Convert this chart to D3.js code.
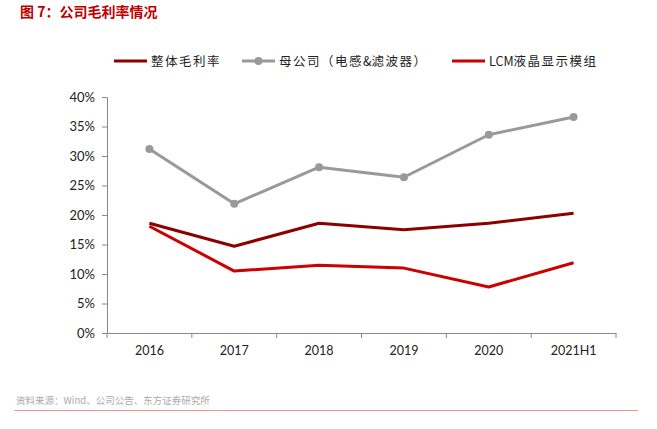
<!DOCTYPE html>
<html>
<head>
<meta charset="utf-8">
<script src="https://cdn.jsdelivr.net/npm/d3@7.9.0/dist/d3.min.js"></script>
<style>
  body { margin: 0; background: #fff; }
  svg { display: block; }
</style>
</head>
<body>
<svg id="chart" width="657" height="429"></svg>
<script>
// data (percent)
const categories = ["2016", "2017", "2018", "2019", "2020", "2021H1"];
const overall = [18.6, 14.7, 18.6, 17.5, 18.6, 20.3];      // 整体毛利率
const parent = [31.2, 21.9, 28.1, 26.4, 33.6, 36.6];       // 母公司（电感&滤波器）
const lcm = [18.1, 10.5, 11.5, 11.0, 7.8, 11.9];           // LCM液晶显示模组
const yTicks = [0, 5, 10, 15, 20, 25, 30, 35, 40];

const series = [
  { name: "整体毛利率", values: overall, color: "#8b0000", marker: false },
  { name: "母公司（电感&滤波器）", values: parent, color: "#999999", marker: true },
  { name: "LCM液晶显示模组", values: lcm, color: "#cc0000", marker: false }
];

const svg = d3.select("#chart");
const fontTick = "Lato, 'Noto Sans', sans-serif";
const fontCJK = "'Noto Sans CJK SC', sans-serif";

// title
svg.append("text")
  .attr("x", 20).attr("y", 17)
  .attr("fill", "#c00000")
  .attr("font-family", fontCJK)
  .attr("font-weight", "bold")
  .attr("font-size", 14)
  .text("图 7：公司毛利率情况");

const x = d3.scaleBand().domain(categories).range([107, 616]);
const y = d3.scaleLinear().domain([0, 40]).range([333, 97]);

// y axis
const yAxis = svg.append("g")
  .attr("transform", "translate(107,0)")
  .call(d3.axisLeft(y).tickValues(yTicks).tickSize(5).tickSizeOuter(0).tickFormat(d => d + "%"));
yAxis.select(".domain").attr("stroke", "#888");
yAxis.selectAll(".tick line").attr("stroke", "#888");
yAxis.selectAll(".tick text")
  .attr("font-family", fontTick).attr("font-size", 13).attr("fill", "#222").attr("x", -12);

// x axis with ticks at band boundaries
const xAxis = svg.append("g")
  .attr("transform", "translate(0,333)")
  .call(d3.axisBottom(x).tickSize(0).tickSizeOuter(0));
xAxis.select(".domain").attr("stroke", "#888");
xAxis.selectAll(".tick text")
  .attr("font-family", fontTick).attr("font-size", 12.5).attr("fill", "#222").attr("dy", "1.55em");
const bounds = categories.map(c => x(c)).concat([x(categories[categories.length - 1]) + x.bandwidth()]);
svg.append("g").selectAll("line").data(bounds).join("line")
  .attr("x1", d => d).attr("x2", d => d)
  .attr("y1", 333).attr("y2", 338)
  .attr("stroke", "#888");

const line = d3.line()
  .x((d, i) => x(categories[i]) + x.bandwidth() / 2)
  .y(d => y(d));

series.forEach(s => {
  svg.append("path")
    .datum(s.values)
    .attr("fill", "none")
    .attr("stroke", s.color)
    .attr("stroke-width", 3)
    .attr("stroke-linejoin", "round")
    .attr("d", line);
  if (s.marker) {
    svg.append("g").selectAll("circle").data(s.values).join("circle")
      .attr("cx", (d, i) => x(categories[i]) + x.bandwidth() / 2)
      .attr("cy", d => y(d))
      .attr("r", 4)
      .attr("fill", s.color);
  }
});

// legend
const legendX = [114, 242, 452];
series.forEach((s, i) => {
  const g = svg.append("g").attr("transform", `translate(${legendX[i]},61)`);
  g.append("line").attr("x1", 0).attr("x2", 33).attr("y1", 0).attr("y2", 0)
    .attr("stroke", s.color).attr("stroke-width", 3);
  if (s.marker) g.append("circle").attr("cx", 16.5).attr("cy", 0).attr("r", 4).attr("fill", s.color);
  // latin runs are not spaced out, CJK runs are
  const t = g.append("text").attr("x", 37).attr("y", 4.5)
    .attr("font-family", fontCJK).attr("font-size", 12.5).attr("fill", "#222");
  s.name.split(/([A-Za-z&]+)/).filter(p => p).forEach(p => {
    t.append("tspan")
      .attr("letter-spacing", /^[A-Za-z&]+$/.test(p) ? 0 : 1.5)
      .text(p);
  });
});

// source + bottom rule
svg.append("text")
  .attr("x", 16).attr("y", 404)
  .attr("font-family", fontCJK).attr("font-size", 9.5).attr("fill", "#aaa")
  .text("资料来源：Wind、公司公告、东方证券研究所");
svg.append("line")
  .attr("x1", 14).attr("x2", 638).attr("y1", 410.5).attr("y2", 410.5)
  .attr("stroke", "#e39a94").attr("stroke-width", 1.2);
</script>
</body>
</html>
